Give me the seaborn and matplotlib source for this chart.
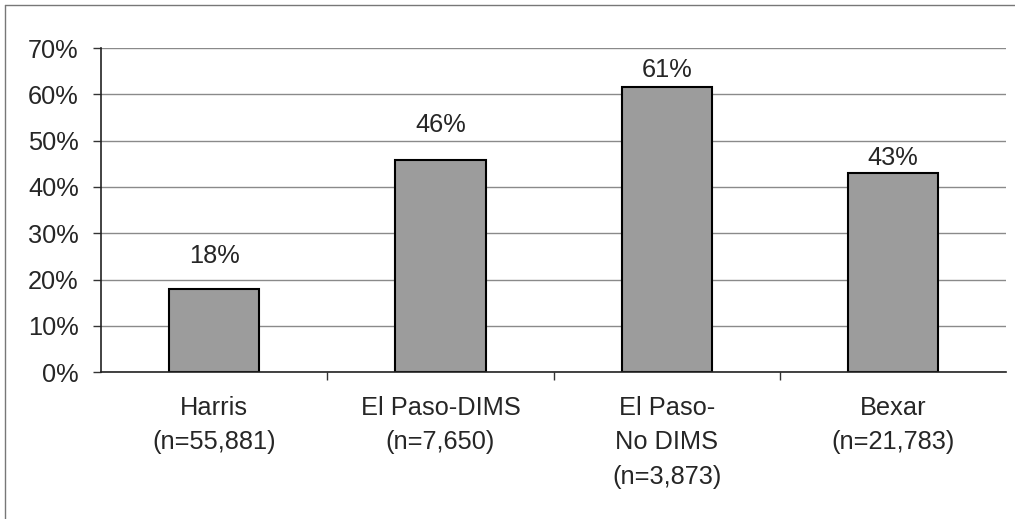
import pandas as pd
import seaborn as sns
import matplotlib.pyplot as plt
from matplotlib.lines import Line2D
from matplotlib.ticker import PercentFormatter, FixedLocator

# Data
counties = ["Harris\n(n=55,881)", "El Paso-DIMS\n(n=7,650)",
            "El Paso-\nNo DIMS\n(n=3,873)", "Bexar\n(n=21,783)"]
shares = [17.9, 45.8, 61.5, 43.0]
bar_labels = ["18%", "46%", "61%", "43%"]

df = pd.DataFrame({"county": counties, "share": shares})

sns.set_style("white")
plt.rcParams["font.family"] = ["Liberation Sans", "DejaVu Sans"]

fig = plt.figure(figsize=(10.15, 5.19), dpi=100)
ax = fig.add_axes([0.0995, 0.283, 0.892, 0.6245])

sns.barplot(data=df, x="county", y="share", color="#9c9c9c",
            edgecolor="black", linewidth=1.5, width=0.4, saturation=1, ax=ax)

ax.set_ylim(0, 70)
ax.set_xlim(-0.5, 3.5)
ax.set_yticks(range(0, 71, 10))
ax.yaxis.set_major_formatter(PercentFormatter(decimals=0))
ax.yaxis.grid(True, color="#8a8a8a", linewidth=1)
ax.set_axisbelow(True)
ax.set_xlabel("")
ax.set_ylabel("")

# tick marks between categories, labels centred under bars
ax.xaxis.set_major_locator(FixedLocator([0.5, 1.5, 2.5]))
ax.xaxis.set_major_formatter(plt.NullFormatter())
ax.xaxis.set_minor_locator(FixedLocator([0, 1, 2, 3]))
ax.set_xticklabels(counties, minor=True)
ax.tick_params(axis="x", which="major", length=6, width=1, color="#333333", direction="out", bottom=True)
ax.tick_params(axis="x", which="minor", length=0, labelsize=18.3, pad=17)
ax.tick_params(axis="y", length=6, width=1, color="#333333", direction="out", left=True, labelsize=18.3, pad=10)
for lab in ax.get_xticklabels(minor=True):
    lab.set_linespacing(1.55)
    lab.set_verticalalignment("top")

for s in ["top", "right"]:
    ax.spines[s].set_visible(False)
for s in ["left", "bottom"]:
    ax.spines[s].set_color("#222222")
    ax.spines[s].set_linewidth(1.2)

# value labels sit at slightly different heights above each bar, as in the original
label_gap = [18.7, 20.2, 7.2, 5.8]
for i, (v, t) in enumerate(zip(shares, bar_labels)):
    ax.annotate(t, (i, v), xytext=(0, label_gap[i]), textcoords="offset points",
                ha="center", va="baseline", fontsize=18.3)

# thin frame around the chart area
fig.add_artist(Line2D([5 / 1015, 5 / 1015], [0, 1 - 5 / 519], color="#777777", linewidth=1))
fig.add_artist(Line2D([5 / 1015, 1], [1 - 5 / 519, 1 - 5 / 519], color="#777777", linewidth=1))

fig.savefig("out.png", dpi=100)
